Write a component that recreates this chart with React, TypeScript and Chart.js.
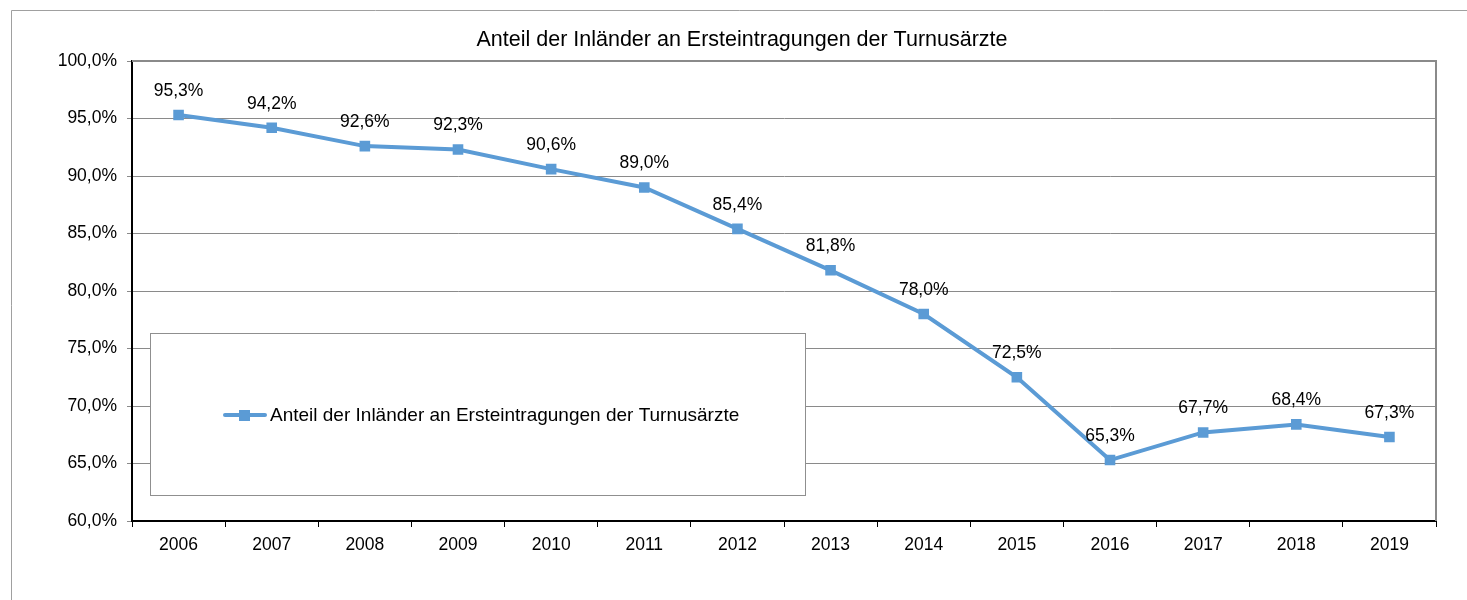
import React, { useEffect, useRef } from "react";
import { Chart, registerables } from "chart.js";

Chart.register(...registerables);

const TITLE = "Anteil der Inländer an Ersteintragungen der Turnusärzte";
const SERIES_NAME = "Anteil der Inländer an Ersteintragungen der Turnusärzte";
const years = ["2006", "2007", "2008", "2009", "2010", "2011", "2012", "2013", "2014", "2015", "2016", "2017", "2018", "2019"];
const shares = [95.3, 94.2, 92.6, 92.3, 90.6, 89.0, 85.4, 81.8, 78.0, 72.5, 65.3, 67.7, 68.4, 67.3];
const yMin = 60;
const yMax = 100;
const yStep = 5;

const FONT = "'Liberation Sans', Arial, sans-serif";
const LINE_COLOR = "#5B9BD5";
const GRID_COLOR = "#8a8a8a";

const fmt = (v: number) => v.toFixed(1).replace(".", ",") + "%";

const decorPlugin = {
  id: "decor",
  beforeDraw(chart: any) {
    const ctx = chart.ctx;
    ctx.save();
    ctx.fillStyle = "#fff";
    ctx.fillRect(0, 0, chart.width, chart.height);
    ctx.strokeStyle = "#a0a0a0";
    ctx.lineWidth = 1;
    ctx.beginPath();
    ctx.moveTo(11.5, chart.height);
    ctx.lineTo(11.5, 10.5);
    ctx.lineTo(chart.width, 10.5);
    ctx.stroke();
    ctx.fillStyle = "#000";
    ctx.font = `21.5px ${FONT}`;
    ctx.textAlign = "center";
    ctx.textBaseline = "middle";
    ctx.fillText(TITLE, 742, 40);
    ctx.restore();
  },
  beforeDatasetsDraw(chart: any) {
    const ctx = chart.ctx;
    const a = chart.chartArea;
    ctx.save();
    // top & right frame
    ctx.strokeStyle = GRID_COLOR;
    ctx.lineWidth = 2;
    ctx.beginPath();
    ctx.moveTo(a.left, a.top);
    ctx.lineTo(a.right, a.top);
    ctx.lineTo(a.right, a.bottom);
    ctx.stroke();
    // legend box
    const bx = a.left + 18.5;
    const by = 333.5;
    const bw = 655;
    const bh = 162;
    ctx.fillStyle = "#fff";
    ctx.fillRect(bx, by, bw, bh);
    ctx.strokeStyle = "#8f8f8f";
    ctx.lineWidth = 1;
    ctx.strokeRect(bx, by, bw, bh);
    const ly = 415;
    ctx.strokeStyle = LINE_COLOR;
    ctx.lineWidth = 4;
    ctx.lineCap = "round";
    ctx.beginPath();
    ctx.moveTo(225, ly);
    ctx.lineTo(265, ly);
    ctx.stroke();
    ctx.fillStyle = LINE_COLOR;
    ctx.fillRect(239, ly - 5, 11, 11);
    ctx.fillStyle = "#000";
    ctx.font = `19px ${FONT}`;
    ctx.textAlign = "left";
    ctx.textBaseline = "middle";
    ctx.fillText(SERIES_NAME, 270, ly + 1);
    ctx.restore();
  },
  afterDatasetsDraw(chart: any) {
    const ctx = chart.ctx;
    const meta = chart.getDatasetMeta(0);
    ctx.save();
    ctx.fillStyle = "#000";
    ctx.font = `17.5px ${FONT}`;
    ctx.textAlign = "center";
    ctx.textBaseline = "middle";
    meta.data.forEach((pt: any, i: number) => {
      ctx.fillText(fmt(shares[i]), pt.x, pt.y - 24);
    });
    ctx.restore();
  },
};

export default function App() {
  const ref = useRef<HTMLCanvasElement>(null);
  useEffect(() => {
    if (!ref.current) return;
    const chart = new Chart(ref.current, {
      type: "line",
      data: {
        labels: years,
        datasets: [
          {
            label: SERIES_NAME,
            data: shares,
            borderColor: LINE_COLOR,
            backgroundColor: LINE_COLOR,
            borderWidth: 4,
            pointStyle: "rect",
            pointRadius: 7.5,
            pointBorderWidth: 0,
            pointBackgroundColor: LINE_COLOR,
            tension: 0,
          },
        ],
      },
      options: {
        responsive: false,
        animation: false,
        devicePixelRatio: 1,
        layout: { padding: { top: 61, right: 31, left: 0, bottom: 0 } },
        plugins: {
          legend: { display: false },
          title: { display: false },
          tooltip: { enabled: false },
        },
        scales: {
          x: {
            type: "category",
            offset: true,
            afterFit: (s: any) => {
              s.height = 79;
            },
            grid: {
              offset: true,
              drawOnChartArea: false,
              drawTicks: true,
              tickLength: 6,
              color: "#000",
            },
            border: { color: "#000", width: 2 },
            ticks: {
              color: "#000",
              font: { family: FONT, size: 17.5 },
              padding: 8,
              maxRotation: 0,
              autoSkip: false,
            },
          },
          y: {
            min: yMin,
            max: yMax,
            afterFit: (s: any) => {
              s.width = 132;
            },
            grid: {
              color: GRID_COLOR,
              drawTicks: true,
              tickLength: 5,
            },
            border: { color: "#000", width: 2 },
            ticks: {
              stepSize: yStep,
              color: "#000",
              font: { family: FONT, size: 17.5 },
              padding: 10,
              callback: (v: any) => fmt(Number(v)),
            },
          },
        },
      },
      plugins: [decorPlugin],
    });
    return () => chart.destroy();
  }, []);
  return (
    <div style={{ position: "absolute", left: 0, top: 0, width: 1467, height: 600 }}>
      <canvas ref={ref} width={1467} height={600} style={{ display: "block" }} />
    </div>
  );
}
